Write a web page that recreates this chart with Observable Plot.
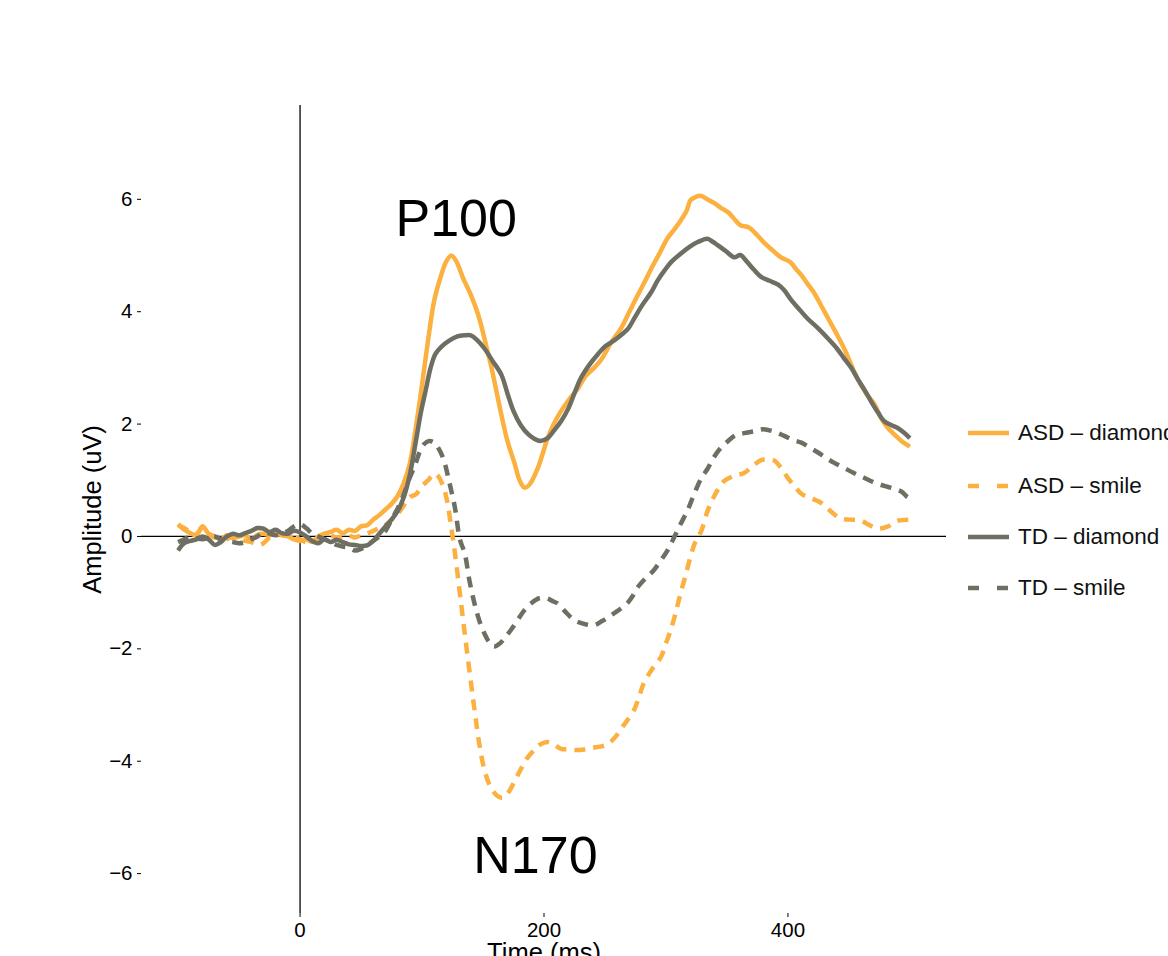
<!DOCTYPE html>
<html>
<head>
<meta charset="utf-8">
<script src="https://cdn.jsdelivr.net/npm/d3@7"></script>
<script src="https://cdn.jsdelivr.net/npm/@observablehq/plot@0.6"></script>
<style>
  html, body { margin: 0; padding: 0; background: #fff; }
  #wrap { position: relative; width: 1168px; height: 956px; overflow: hidden; font-family: "Liberation Sans", Arial, Helvetica, sans-serif; }
  #legend { position: absolute; left: 968px; top: 0; }
  .row { position: absolute; left: 0; display: flex; align-items: center; white-space: nowrap; font-size: 22.5px; color: #111; }
  .row svg { margin-right: 9px; }
</style>
</head>
<body>
<div id="wrap"><div id="legend"></div></div>
<script>
// ---- data ----
const seriesNames = ["ASD – diamond", "ASD – smile", "TD – diamond", "TD – smile"];

const asdDiamondT = [-100,-95,-90,-85,-80,-75,-70,-65,-60,-55,-50,-45,-40,-35,-30,-25,-20,-15,-10,-5,0,5,10,15,20,25,30,35,40,45,50,55,60,65,70,75,80,85,90,95,100,105,110,115,120,124,128,134,140,146,152,157,165,170,176,180,184,188,195,203,208,214,221,228,234,241,247,255,263,270,277,283,288,295,301,307,312,317,320,325,329,334,339,345,351,356,361,368,374,380,387,394,402,407,411,416,421,427,433,440,446,452,457,464,471,476,482,488,493,500];
const asdDiamondV = [0.22,0.12,0.06,0.02,0.18,0.05,0.0,-0.05,0.02,-0.03,0.0,0.02,-0.05,0.03,0.05,0.02,0.06,0.02,0.0,-0.05,-0.08,-0.05,-0.1,0.0,0.05,0.08,0.12,0.06,0.12,0.1,0.18,0.2,0.3,0.38,0.48,0.58,0.72,0.95,1.3,1.95,2.7,3.5,4.2,4.6,4.9,5.0,4.9,4.58,4.3,3.95,3.45,3.0,2.17,1.7,1.29,1.0,0.87,0.92,1.22,1.75,2.0,2.23,2.45,2.64,2.85,3.0,3.15,3.45,3.7,4.0,4.3,4.55,4.77,5.05,5.3,5.47,5.62,5.8,5.98,6.05,6.06,6.0,5.94,5.85,5.77,5.65,5.54,5.5,5.38,5.24,5.1,4.97,4.88,4.75,4.65,4.5,4.35,4.12,3.88,3.6,3.35,3.05,2.81,2.55,2.35,2.12,1.93,1.8,1.7,1.6];

const asdSmileT = [-100,-95,-90,-85,-80,-75,-70,-65,-60,-55,-50,-45,-40,-35,-30,-25,-20,-15,-10,-5,0,5,10,15,20,25,30,35,40,45,50,55,60,65,70,75,80,85,90,95,100,105,110,113,118,121,124,127,132,137,143,147,151,156,162,166,170,176,181,186,192,197,203,208,214,220,227,233,240,246,252,258,263,268,274,278,282,289,296,300,304,308,312,316,320,324,329,334,338,343,348,356,364,371,378,384,389,395,400,406,411,419,427,435,443,451,460,467,474,482,490,500];
const asdSmileV = [0.2,0.15,0.08,0.05,0.15,0.05,-0.02,0.0,-0.05,0.02,-0.03,-0.08,-0.1,-0.15,-0.12,-0.02,0.02,0.05,0.03,0.0,-0.05,-0.1,-0.08,-0.05,0.0,0.02,-0.02,0.0,0.02,-0.02,0.02,0.05,0.1,0.15,0.2,0.3,0.4,0.55,0.7,0.75,0.9,1.0,1.12,1.08,0.85,0.58,0.15,-0.3,-1.19,-2.07,-3.08,-3.7,-4.14,-4.45,-4.62,-4.65,-4.58,-4.35,-4.14,-3.95,-3.8,-3.7,-3.66,-3.7,-3.78,-3.79,-3.8,-3.79,-3.76,-3.74,-3.7,-3.58,-3.43,-3.28,-3.08,-2.85,-2.6,-2.35,-2.14,-1.9,-1.66,-1.35,-1.01,-0.7,-0.37,-0.1,0.1,0.45,0.65,0.85,0.99,1.08,1.13,1.25,1.36,1.37,1.35,1.2,1.04,0.88,0.76,0.68,0.6,0.45,0.32,0.3,0.28,0.2,0.14,0.18,0.28,0.3];

const tdDiamondT = [-100,-95,-90,-85,-80,-75,-70,-65,-60,-55,-50,-45,-40,-35,-30,-25,-20,-15,-10,-5,0,5,10,15,20,25,30,35,40,45,50,55,60,65,70,75,80,85,90,95,99,103,107,111,116,122,129,135,140,145,151,158,165,170,175,181,187,192,197,203,208,214,220,225,230,237,244,250,257,264,269,274,280,288,293,299,305,312,319,326,334,338,342,349,356,361,366,372,378,385,392,397,402,409,416,425,433,440,446,452,457,463,468,474,479,485,490,495,500];
const tdDiamondV = [-0.25,-0.12,-0.08,-0.05,0.0,-0.05,-0.15,-0.1,0.0,0.05,0.02,0.06,0.1,0.15,0.14,0.08,0.12,0.06,0.05,0.1,0.07,0.0,-0.08,-0.12,-0.05,-0.1,-0.06,-0.1,-0.14,-0.15,-0.17,-0.16,-0.08,0.05,0.18,0.3,0.45,0.7,1.1,1.7,2.2,2.6,3.0,3.25,3.38,3.48,3.56,3.58,3.58,3.5,3.35,3.12,2.88,2.55,2.23,1.98,1.82,1.74,1.7,1.75,1.88,2.05,2.28,2.55,2.81,3.05,3.24,3.38,3.48,3.6,3.7,3.88,4.1,4.35,4.55,4.74,4.9,5.03,5.15,5.24,5.3,5.25,5.19,5.08,4.97,5.01,4.9,4.75,4.62,4.55,4.48,4.38,4.23,4.05,3.88,3.7,3.52,3.35,3.17,3.0,2.81,2.6,2.41,2.2,2.05,1.98,1.93,1.85,1.75];

const tdSmileT = [-100,-95,-90,-85,-80,-75,-70,-65,-60,-55,-50,-45,-40,-35,-30,-25,-20,-15,-10,-5,0,5,10,15,20,25,30,35,40,45,50,55,60,65,70,75,80,86,90,94,98,102,106,110,114,118,122,127,131,135,139,143,147,151,155,159,164,168,173,178,184,190,196,202,207,211,218,225,232,241,248,255,262,269,273,277,283,290,296,302,307,312,318,323,329,334,339,345,351,357,364,372,380,388,397,404,411,418,425,431,438,446,454,462,471,479,487,493,498,500];
const tdSmileV = [-0.1,-0.05,0.0,-0.03,-0.05,-0.02,0.0,-0.05,-0.08,-0.1,-0.12,-0.1,-0.05,0.0,0.07,0.05,0.02,0.05,0.1,0.18,0.22,0.15,0.05,0.0,-0.05,-0.1,-0.15,-0.18,-0.2,-0.25,-0.22,-0.15,-0.08,0.0,0.1,0.3,0.5,0.81,1.05,1.25,1.5,1.65,1.7,1.67,1.55,1.35,1.0,0.51,-0.05,-0.3,-0.8,-1.19,-1.5,-1.72,-1.88,-1.96,-1.9,-1.8,-1.66,-1.5,-1.31,-1.18,-1.1,-1.1,-1.15,-1.19,-1.35,-1.49,-1.55,-1.58,-1.5,-1.4,-1.3,-1.17,-1.05,-0.9,-0.75,-0.6,-0.42,-0.22,0.0,0.22,0.48,0.75,1.04,1.2,1.4,1.58,1.7,1.8,1.84,1.87,1.91,1.87,1.79,1.72,1.67,1.58,1.49,1.4,1.31,1.22,1.13,1.05,0.96,0.9,0.85,0.8,0.7,0.68];

const xTicks = [0, 200, 400];
const yTicks = [-6, -4, -2, 0, 2, 4, 6];
const annotLabels = ["P100", "N170"];
const annotTime = [128, 193];
const annotAmp = [5.64, -5.70];
const xTitle = "Time (ms)";
const yTitle = "Amplitude (uV)";

// ---- styles ----
const ORANGE = "#fbb03f", GRAY = "#6e6e62";
const styles = {
  "ASD – diamond": {stroke: ORANGE, dash: null},
  "ASD – smile":   {stroke: ORANGE, dash: "11,8"},
  "TD – diamond":  {stroke: GRAY, dash: null},
  "TD – smile":    {stroke: GRAY, dash: "11,8"}
};
const seriesData = [
  [asdDiamondT, asdDiamondV],
  [asdSmileT, asdSmileV],
  [tdDiamondT, tdDiamondV],
  [tdSmileT, tdSmileV]
].map(([t, v], k) => t.map((d, i) => ({time: d, amp: v[i], series: seriesNames[k]})));

const fmt = d => d < 0 ? "\u2212" + Math.abs(d) : String(d);
const FONT = "Liberation Sans, Arial, Helvetica, sans-serif";

const lineMarks = seriesData.map((data, k) => {
  const s = styles[seriesNames[k]];
  return Plot.line(data, {
    x: "time", y: "amp", stroke: s.stroke, strokeWidth: 4.5,
    strokeDasharray: s.dash || undefined, strokeLinejoin: "round",
    strokeLinecap: "butt", curve: "catmull-rom"
  });
});

const annot = annotLabels.map((l, i) => ({label: l, time: annotTime[i], amp: annotAmp[i]}));

const chart = Plot.plot({
  width: 1168, height: 956,
  marginLeft: 141, marginRight: 222, marginTop: 105, marginBottom: 43,
  style: {fontFamily: FONT, background: "white", color: "black", overflow: "visible"},
  x: {domain: [-130, 530], axis: null},
  y: {domain: [-6.71, 7.67], axis: null},
  marks: [
    Plot.ruleY([0], {stroke: "black", strokeWidth: 1.3}),
    Plot.ruleX([0], {stroke: "black", strokeWidth: 1.3}),
    ...lineMarks,
    Plot.axisX(xTicks, {anchor: "bottom", tickSize: 4, tickPadding: 5, fontSize: 20.5, label: null, stroke: "black", fill: "black"}),
    Plot.axisY(yTicks, {anchor: "left", tickSize: 4, tickPadding: 5, fontSize: 20.5, label: null, tickFormat: fmt, stroke: "black", fill: "black"}),
    Plot.text(annot, {x: "time", y: "amp", text: "label", fontSize: 52, fill: "black", lineAnchor: "middle"}),
    Plot.text([xTitle], {frameAnchor: "bottom", dy: 29, lineAnchor: "top", textAnchor: "middle", fontSize: 25.5, fill: "black"}),
    Plot.text([yTitle], {frameAnchor: "left", dx: -59, rotate: -90, lineAnchor: "top", textAnchor: "middle", fontSize: 25.5, fill: "black"})
  ]
});

const wrap = document.getElementById("wrap");
wrap.insertBefore(chart, wrap.firstChild);

// legend
const legend = document.getElementById("legend");
const rowY = [433, 486, 537, 588];
seriesNames.forEach((name, i) => {
  const s = styles[name];
  const row = document.createElement("div");
  row.className = "row";
  row.style.top = (rowY[i] - 13) + "px";
  row.style.height = "26px";
  row.innerHTML = `<svg width="41" height="10"><line x1="0" x2="41" y1="5" y2="5" stroke="${s.stroke}" stroke-width="4.5" ${s.dash ? `stroke-dasharray="11,18"` : ""}/></svg><span>${name}</span>`;
  legend.appendChild(row);
});
</script>
</body>
</html>
